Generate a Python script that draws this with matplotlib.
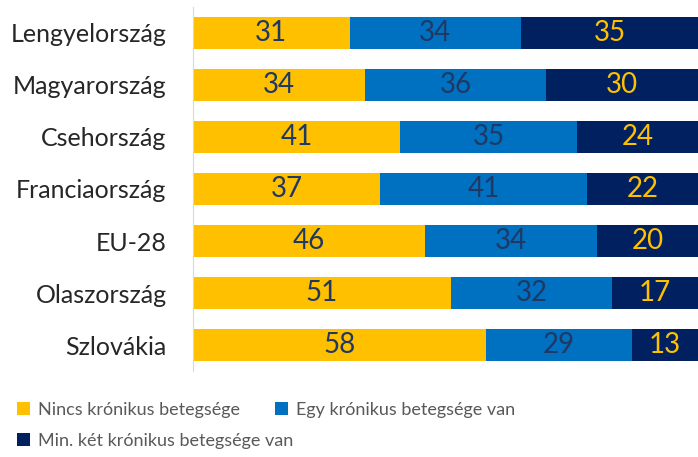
import matplotlib
matplotlib.use("Agg")
import matplotlib.pyplot as plt
import numpy as np

plt.rcParams['font.family'] = ['Lato', 'DejaVu Sans']

# data
countries = ["Lengyelország", "Magyarország", "Csehország", "Franciaország",
             "EU-28", "Olaszország", "Szlovákia"]
none_vals = [31, 34, 41, 37, 46, 51, 58]
one_vals = [34, 36, 35, 41, 34, 32, 29]
two_vals = [35, 30, 24, 22, 20, 17, 13]
series_names = ["Nincs krónikus betegsége", "Egy krónikus betegsége van",
                "Min. két krónikus betegsége van"]

colors = ["#FFC000", "#0070C0", "#002060"]
text_colors = ["#1F3864", "#1F3864", "#FFC000"]

fig = plt.figure(figsize=(6.98, 4.57), dpi=100)
ax = fig.add_axes([0.2765, 0.188, 0.7235, 0.797])

y = np.arange(len(countries))
left = np.zeros(len(countries))
bars = []
for vals, col, tcol in zip([none_vals, one_vals, two_vals], colors, text_colors):
    b = ax.barh(y, vals, left=left, height=0.62, color=col, edgecolor="none")
    bars.append(b)
    for yi, (l, v) in enumerate(zip(left, vals)):
        ax.text(l + v / 2, yi, str(v), ha="center", va="center",
                fontsize=20, color=tcol)
    left = left + np.array(vals)

ax.set_xlim(0, 100)
ax.set_ylim(6.5, -0.5)
ax.set_yticks(y)
ax.set_yticklabels(countries, fontsize=18, color="#262626")
ax.tick_params(axis="y", length=0, pad=19)
ax.set_xticks([])
for s in ["top", "right", "bottom"]:
    ax.spines[s].set_visible(False)
ax.spines["left"].set_color("#D9D9D9")

leg_kw = dict(frameon=False, fontsize=13, labelcolor="#595959",
              handlelength=0.75, handleheight=0.75, handletextpad=0.45,
              borderaxespad=0, borderpad=0)
fig.legend(bars[:2], series_names[:2], loc="center left",
           bbox_to_anchor=(0.024, 0.103), ncol=2, columnspacing=1.9,
           **leg_kw)
fig.legend(bars[2:], series_names[2:], loc="center left",
           bbox_to_anchor=(0.024, 0.035), **leg_kw)

fig.savefig("out.png", dpi=100)
